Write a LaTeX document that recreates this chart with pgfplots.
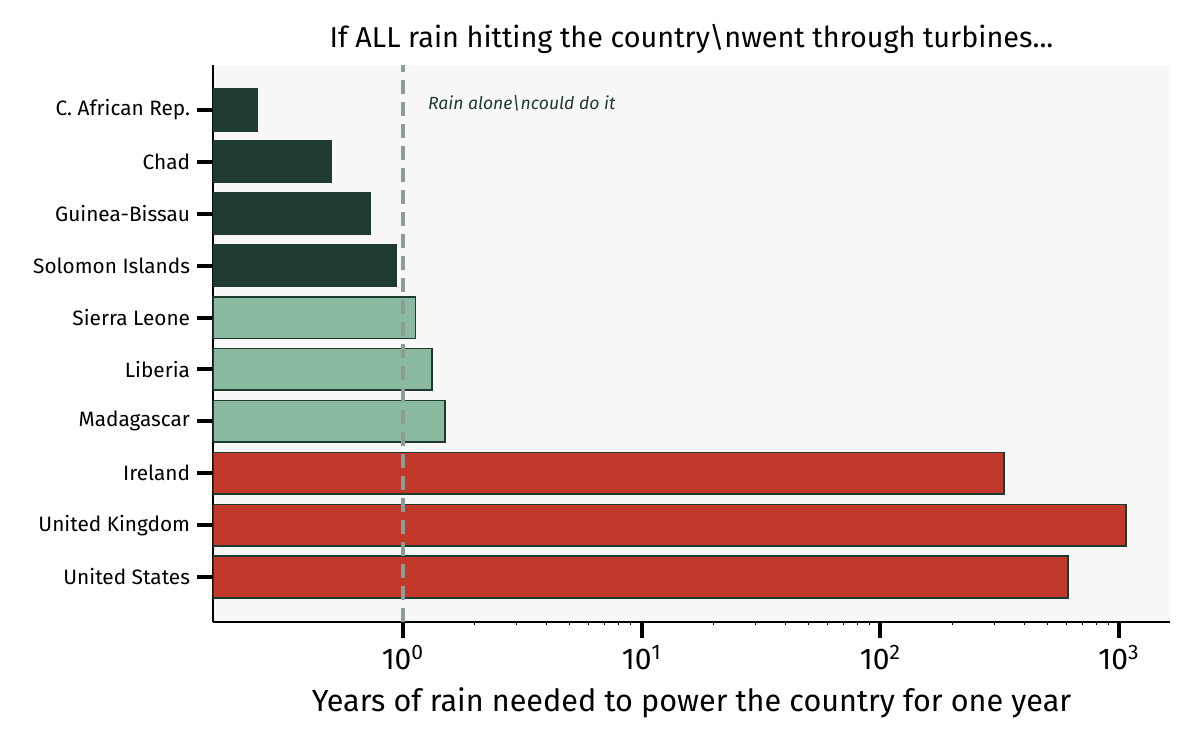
\documentclass[border=0pt]{standalone}
\usepackage{pgfplots}
\pgfplotsset{compat=1.18}
\usepackage{fontspec}
\setmainfont{Fira Sans}
\definecolor{dkgreen}{HTML}{1F3A2F}
\definecolor{ltgreen}{HTML}{8ABA9F}
\definecolor{redbar}{HTML}{C0392B}
\definecolor{bgc}{HTML}{F8F8F6}
\definecolor{dashc}{HTML}{8E9C96}
\begin{document}
\begin{tikzpicture}
\path[use as bounding box] (-106.5pt,-64pt) rectangle (493.5pt,311pt);
\begin{axis}[
  scale only axis,
  width=478.5pt, height=278.5pt,
  xmode=log, log origin=infty,
  xmin=0.16, xmax=1634,
  ymin=-0.867, ymax=9.867,
  axis x line*=bottom, axis y line*=left,
  axis line style={line width=1.2pt, black},
  axis background/.style={fill=bgc},
  ytick={0,...,9},
  yticklabels={United States,United Kingdom,Ireland,Madagascar,Liberia,Sierra Leone,Solomon Islands,Guinea-Bissau,Chad,C. African Rep.},
  y tick label style={font=\fontsize{10.4}{12}\selectfont},
  x tick label style={font=\fontsize{15}{16}\selectfont},
  xtick={1,10,100,1000},
  xticklabels={10\textsuperscript{0},10\textsuperscript{1},10\textsuperscript{2},10\textsuperscript{3}},
  tick align=outside,
  major tick length=8pt,
  minor tick length=1.5pt,
  every major tick/.style={line width=2pt, black},
  every minor tick/.style={line width=0.4pt, black},
  title={If ALL rain hitting the country\textbackslash nwent through turbines...},
  title style={font=\fontsize{14.4}{16}\selectfont, yshift=-4pt},
  xlabel={Years of rain needed to power the country for one year},
  xlabel style={font=\fontsize{15.3}{17}\selectfont, yshift=-2pt},
]
\addplot[xbar, bar width=0.8, bar shift=0pt, fill=dkgreen, draw=dkgreen, line width=0.8pt] coordinates {(0.94,6) (0.73,7) (0.50,8) (0.245,9)};
\addplot[xbar, bar width=0.8, bar shift=0pt, fill=ltgreen, draw=dkgreen, line width=0.8pt] coordinates {(1.50,3) (1.32,4) (1.13,5)};
\addplot[xbar, bar width=0.8, bar shift=0pt, fill=redbar, draw=dkgreen, line width=0.8pt] coordinates {(611,0) (1069,1) (330,2)};
\addplot[sharp plot, mark=none, draw=dashc, line width=1.6pt, dash pattern=on 7pt off 4pt] coordinates {(1,-0.867) (1,9.867)};
\node[anchor=west, text=dkgreen, font=\fontsize{8.8}{10}\selectfont\itshape] at (axis cs:1.19,9.12) {Rain alone\textbackslash ncould do it};
\end{axis}
\end{tikzpicture}
\end{document}
